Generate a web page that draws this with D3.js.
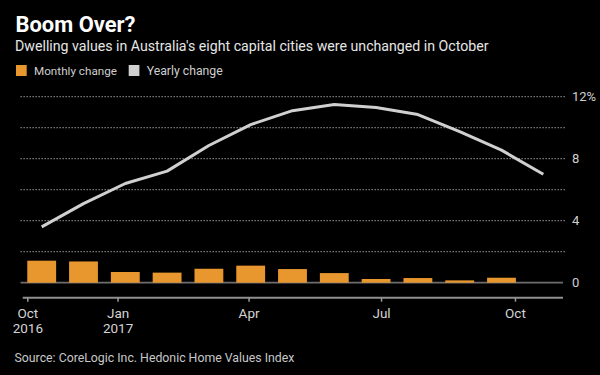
<!DOCTYPE html>
<html>
<head>
<meta charset="utf-8">
<script src="https://cdn.jsdelivr.net/npm/d3@7"></script>
<style>
  html, body { margin: 0; padding: 0; background: #000; }
  svg { display: block; }
</style>
</head>
<body>
<svg width="600" height="375"></svg>
<script>
// месяцы (Oct 2016 .. Oct 2017)
const months = ["2016-10", "2016-11", "2016-12", "2017-01", "2017-02", "2017-03", "2017-04",
                "2017-05", "2017-06", "2017-07", "2017-08", "2017-09", "2017-10"];
// месячное изменение, %
const monthlyChange = [1.42, 1.37, 0.69, 0.65, 0.90, 1.10, 0.88, 0.62, 0.24, 0.30, 0.15, 0.32, 0.0];
// годовое изменение, %
const yearlyChange = [3.6, 5.1, 6.4, 7.2, 8.85, 10.2, 11.1, 11.5, 11.3, 10.85, 9.75, 8.55, 7.0];

// подписи оси X
const tickDates = ["2016-10-31", "2017-01-01", "2017-04-01", "2017-07-01", "2017-10-01"];
const tickLabels = [["Oct", "2016"], ["Jan", "2017"], ["Apr"], ["Jul"], ["Oct"]];
const yTicks = [0, 4, 8, 12];
const gridValues = [2, 4, 6, 8, 10, 12];

const title = "Boom Over?";
const subtitle = "Dwelling values in Australia's eight capital cities were unchanged in October";
const source = "Source: CoreLogic Inc. Hedonic Home Values Index";
const legendItems = [{label: "Monthly change", color: "#e8972f"}, {label: "Yearly change", color: "#d0d0d0"}];

const svg = d3.select("svg");
const font = "Roboto, 'Liberation Sans', sans-serif";

// подгоняем размер шрифта под нужную ширину
function fit(sel, w) {
    const cur = sel.node().getComputedTextLength();
    const fs = parseFloat(sel.attr("font-size"));
    sel.attr("font-size", (fs * w / cur).toFixed(2));
    return sel;
}

const plot = {left: 20.8, right: 564.2, zeroY: 282.7, topY: 96.7};

const scX = d3.scaleBand()
    .domain(months)
    .range([plot.left, plot.right])
    .paddingInner(0.31)
    .paddingOuter(0.155);

const scY = d3.scaleLinear()
    .domain([0, 12])
    .range([plot.zeroY, plot.topY]);

const parse = d3.timeParse("%Y-%m-%d");
const scT = d3.scaleTime()
    .domain([parse("2016-10-31"), parse("2017-11-03")])
    .range([27.3, 563]);

// заголовки
fit(svg.append("text").attr("x", 15.5).attr("y", 31.7).attr("font-family", font)
    .attr("font-weight", "bold").attr("font-size", 19).attr("fill", "#fff").text(title), 120);
fit(svg.append("text").attr("x", 15).attr("y", 50.7).attr("font-family", font)
    .attr("font-size", 14).attr("fill", "#e6e6e6").text(subtitle), 474);

// легенда
const legendX = [16, 128.7];
const legendW = [83, 76];
legendItems.forEach((d, i) => {
    svg.append("rect").attr("x", legendX[i]).attr("y", 65).attr("width", 10.7).attr("height", 11)
        .attr("fill", d.color);
    fit(svg.append("text").attr("x", legendX[i] + 18).attr("y", 75).attr("font-family", font)
        .attr("font-size", 13).attr("fill", "#cfcfcf").text(d.label), legendW[i]);
});

// сетка
svg.append("g")
    .selectAll("line")
    .data(gridValues)
    .enter()
    .append("line")
    .attr("x1", 20.5).attr("x2", 565)
    .attr("y1", d => scY(d)).attr("y2", d => scY(d))
    .attr("stroke", "#8c8c8c")
    .attr("stroke-width", 1.3)
    .attr("stroke-dasharray", "1.3,1.7");

// нулевая линия
svg.append("line")
    .attr("x1", 20.5).attr("x2", 563)
    .attr("y1", scY(0)).attr("y2", scY(0))
    .attr("stroke", "#6e6e6e").attr("stroke-width", 1.8);

// правая ось
const axisY = d3.axisRight(scY).tickValues(yTicks).tickSize(0).tickPadding(0)
    .tickFormat(d => d === 12 ? "12%" : d);
const gY = svg.append("g").attr("transform", "translate(572,0)").call(axisY);
gY.select(".domain").remove();
gY.selectAll("text").attr("font-family", font).attr("font-size", 13).attr("fill", "#d0d0d0");

// столбцы
svg.append("g")
    .selectAll("rect")
    .data(months)
    .enter()
    .append("rect")
    .attr("x", d => scX(d))
    .attr("width", scX.bandwidth())
    .attr("y", (d, i) => scY(monthlyChange[i]))
    .attr("height", (d, i) => scY(0) - scY(monthlyChange[i]))
    .attr("fill", legendItems[0].color);

// линия
const line = d3.line()
    .x((d, i) => scX(months[i]) + scX.bandwidth() / 2)
    .y(d => scY(d));

svg.append("path")
    .datum(yearlyChange)
    .attr("d", line)
    .attr("fill", "none")
    .attr("stroke", legendItems[1].color)
    .attr("stroke-width", 3)
    .attr("stroke-linejoin", "round");

// нижняя ось (время)
const axisX = d3.axisBottom(scT)
    .tickValues(tickDates.map(parse))
    .tickSize(4)
    .tickSizeOuter(0)
    .tickFormat("");
const gX = svg.append("g").attr("transform", "translate(0,297.7)").call(axisX);
gX.select(".domain").remove();
gX.selectAll(".tick line").attr("stroke", "#9a9a9a").attr("stroke-width", 1.5);
gX.insert("line", ":first-child")
    .attr("x1", 22.7).attr("x2", 563).attr("y1", 0).attr("y2", 0)
    .attr("stroke", "#8f8f8f").attr("stroke-width", 2);

gX.selectAll(".tick").each(function(d, i) {
    const t = d3.select(this).append("text")
        .attr("text-anchor", "middle")
        .attr("font-family", font).attr("font-size", 13.5)
        .attr("fill", "#d4d4d4");
    tickLabels[i].forEach((s, j) => {
        t.append("tspan").attr("x", 0).attr("y", 20.3 + j * 15).text(s);
    });
});

// источник
fit(svg.append("text").attr("x", 14.5).attr("y", 362).attr("font-family", font)
    .attr("font-size", 13).attr("fill", "#c8c8c8").text(source), 280);
</script>
</body>
</html>
